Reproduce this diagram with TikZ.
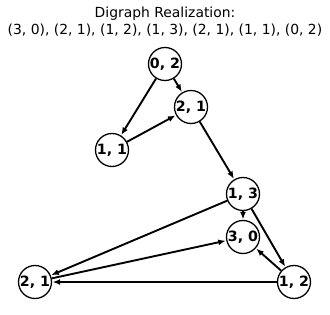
\documentclass[tikz,border=0pt]{standalone}
\usepackage{fontspec}
\setmainfont{DejaVu Sans}
\usetikzlibrary{arrows.meta}
\begin{document}
\begin{tikzpicture}[x=1pt,y=1pt,
  vtx/.style={circle,draw=black,line width=1.3pt,fill=white,minimum size=33pt,inner sep=0pt,font=\fontsize{14.2}{16}\selectfont\bfseries},
  edge/.style={line width=1.9pt,-{Latex[length=7.5pt,width=6pt]},shorten >=0.5pt},
  ttl/.style={font=\fontsize{13.9}{16}\selectfont,inner sep=0pt}]
\useasboundingbox (0,0) rectangle (330,314);
\node[ttl] (t1) at (165,300) {Digraph Realization:};
\node[ttl] (t2) at (165,284) {(3, 0), (2, 1), (1, 2), (1, 3), (2, 1), (1, 1), (0, 2)};
\node[vtx] (a) at (165,250) {0, 2};
\node[vtx] (b) at (191,207) {2, 1};
\node[vtx] (c) at (112,164) {1, 1};
\node[vtx] (d) at (243,120) {1, 3};
\node[vtx] (e) at (243,77) {3, 0};
\node[vtx] (f) at (35,32) {2, 1};
\node[vtx] (g) at (294,32) {1, 2};
\draw[edge] (a) -- (b);
\draw[edge] (a) -- (c);
\draw[edge] (c) -- (b);
\draw[edge] (b) -- (d);
\draw[edge] (d) -- (e);
\draw[edge] (d) -- (f);
\draw[edge] (d) -- (g);
\draw[edge] (g) -- (e);
\draw[edge] (g) -- (f);
\draw[edge] (f) -- (e);
\end{tikzpicture}
\end{document}
